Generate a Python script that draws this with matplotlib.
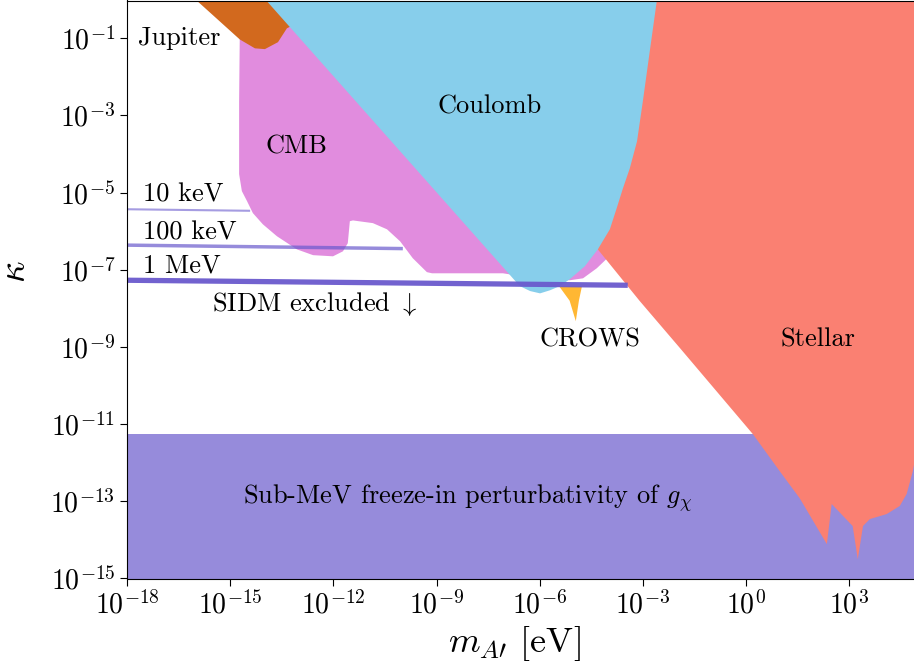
import numpy as np
import matplotlib.pyplot as plt
from matplotlib.ticker import NullLocator

plt.rcParams.update({
    "font.family": "serif",
    "font.serif": ["cmr10"],
    "mathtext.fontset": "cm",
    "axes.formatter.use_mathtext": True,
    "axes.unicode_minus": False,
})

# all boundaries as log10(m_A' / eV), log10(kappa)
subMeV_top = -11.26

jupiter_logm = [-16.0, -14.72, -14.28, -13.99, -13.61, -13.35, -12.8, -12.8]
jupiter_logk = [0.0, -1.03, -1.26, -1.28, -1.10, -0.74, -0.5, 0.0]

cmb_logm = [-14.72, -14.74, -14.74, -14.66, -14.51, -14.34, -14.05, -13.64, -13.06,
            -12.59, -12.01, -11.72, -11.58, -11.52, -11.43, -10.85, -10.44, -10.06,
            -9.69, -9.28, -9.13, -7.07, -5.99, -5.12, -4.74, -4.34, -4.07, -3.96,
            -4.2, -12.97]
cmb_logk = [-0.82, -2.63, -4.52, -4.96, -5.22, -5.53, -5.82, -6.13, -6.47,
            -6.62, -6.65, -6.52, -6.31, -5.74, -5.72, -5.79, -5.95, -6.26,
            -6.70, -7.06, -7.09, -7.09, -7.24, -7.27, -7.22, -6.96, -6.73, -6.52,
            -5.9, -0.56]

coulomb_logm = [-13.97, -6.78, -6.58, -6.28, -5.99, -5.70, -5.41, -5.12, -4.69, -4.31,
                -3.96, -3.76, -3.58, -3.38, -3.17, -3.00, -2.80, -2.59]
coulomb_logk = [0.0, -7.22, -7.42, -7.55, -7.61, -7.53, -7.42, -7.24, -6.91, -6.47,
                -5.95, -5.40, -4.89, -4.37, -3.67, -2.63, -1.34, 0.0]

stellar_logm = [-3.67, -4.54, -4.31, -3.09, -1.92, 0.20, 0.98, 1.56, 2.35, 2.49,
                3.10, 3.25, 3.40, 3.60, 4.09, 4.47, 4.67, 4.85, 5.2, 5.2]
stellar_logk = [0.0, -6.26, -6.47, -7.81, -9.03, -11.26, -12.22, -12.92, -14.11, -13.07,
                -13.64, -14.50, -13.64, -13.46, -13.33, -13.12, -12.81, -12.22, -10.5, 0.0]

crows_logm = [-5.44, -4.77, -4.86, -4.95, -5.13]
crows_logk = [-7.42, -7.42, -7.80, -8.33, -7.80]

# SIDM bounds for different DM masses
sidm_names = ["10 keV", "100 keV", "1 MeV"]
sidm_logm_end = [-14.42, -9.98, -3.44]
sidm_logk_start = [-5.43, -6.36, -7.27]
sidm_logk_end = [-5.47, -6.45, -7.40]


def L(a):
    return 10.0 ** np.asarray(a, dtype=float)


fig = plt.figure(figsize=(9.14, 6.71), dpi=100)
ax = fig.add_axes([127 / 914, 92.5 / 671, 791 / 914, 578 / 671])
ax.set_xscale("log")
ax.set_yscale("log")

ax.fill_between(L([-18, 5.2]), 1e-16, L(subMeV_top), color="slateblue", alpha=0.7, lw=0)
ax.fill(L(cmb_logm), L(cmb_logk), color="orchid", alpha=0.8, lw=0)
ax.fill(L(stellar_logm), L(stellar_logk), color="salmon", lw=0)
ax.fill(L(jupiter_logm), L(jupiter_logk), color="chocolate", lw=0)
ax.fill(L(coulomb_logm), L(coulomb_logk), color="skyblue", lw=0)
ax.fill(L(crows_logm), L(crows_logk), color="orange", alpha=0.8, lw=0)

widths = [1.5, 2.5, 3.8]
alphas = [0.6, 0.7, 0.95]
for i in range(len(sidm_names)):
    ax.plot(L([-18, sidm_logm_end[i]]), L([sidm_logk_start[i], sidm_logk_end[i]]),
            color="slateblue", lw=widths[i], alpha=alphas[i], solid_capstyle="butt")

fs = 19
ax.text(L(-17.68), L(-1.0), "Jupiter", fontsize=fs, ha="left", va="center")
ax.text(L(-7.45), L(-2.76), "Coulomb", fontsize=fs, ha="center", va="center")
ax.text(L(-13.06), L(-3.80), "CMB", fontsize=fs, ha="center", va="center")
ax.text(L(-17.53), L(-5.04), sidm_names[0], fontsize=fs, ha="left", va="center")
ax.text(L(-17.53), L(-6.03), sidm_names[1], fontsize=fs, ha="left", va="center")
ax.text(L(-17.53), L(-6.88), sidm_names[2], fontsize=fs, ha="left", va="center")
ax.text(L(-15.53), L(-7.89), r"SIDM excluded $\downarrow$", fontsize=fs, ha="left", va="center")
ax.text(L(-4.54), L(-8.80), "CROWS", fontsize=fs, ha="center", va="center")
ax.text(L(2.09), L(-8.80), "Stellar", fontsize=fs, ha="center", va="center")
ax.text(L(-8.09), L(-12.92), r"Sub-MeV freeze-in perturbativity of $g_\chi$",
        fontsize=fs, ha="center", va="center")

ax.set_xlim(1e-18, 1e5)
ax.set_ylim(1e-15, 10 ** -0.02)
ax.set_xticks(L(np.arange(-18, 4, 3)))
ax.set_yticks(L(np.arange(-15, 0, 2)))
ax.xaxis.set_minor_locator(NullLocator())
ax.yaxis.set_minor_locator(NullLocator())
ax.tick_params(labelsize=20, length=5)
ax.spines["right"].set_visible(False)

ax.set_xlabel(r"$m_{A\prime}$ [eV]", fontsize=26)
ax.set_ylabel(r"$\kappa$", fontsize=27)
ax.xaxis.set_label_coords(0.49, -0.078)
ax.yaxis.set_label_coords(-0.12, 0.53)

plt.savefig("out.png", dpi=100)
plt.close()
